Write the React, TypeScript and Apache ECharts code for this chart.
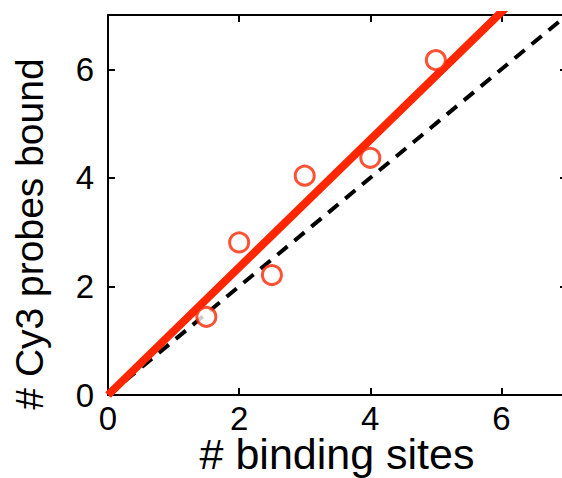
import React, { useEffect, useRef } from "react";
import * as echarts from "echarts";

const bindingSites = [1.5, 2, 2.5, 3, 4, 5];
const probesBound = [1.44, 2.81, 2.21, 4.04, 4.37, 6.17];
const fitX = [0, 7];
const fitY = [0, 8.23];
const identityX = [0, 7];
const identityY = [0, 7];
const tickLabels = [0, 2, 4, 6];

const xTitle = "# binding sites";
const yTitle = "# Cy3 probes bound";

const RED = "#ff2600";
const FONT = "'Liberation Sans', Arial, sans-serif";

export default function App() {
  const ref = useRef<HTMLDivElement>(null);
  useEffect(() => {
    if (!ref.current) return;
    const chart = echarts.init(ref.current, undefined, { renderer: "svg" });
    const fmt = (v: number) => (tickLabels.includes(v) ? String(v) : "");
    const axisLine = { show: true, onZero: false, lineStyle: { color: "#000", width: 2 } };
    const axisTick = { show: true, inside: true, length: 7, lineStyle: { color: "#000", width: 2 } };
    const labelStyle = { color: "#000", fontSize: 33, fontFamily: FONT };
    chart.setOption({
      animation: false,
      backgroundColor: "#fff",
      grid: {
        left: 108,
        top: 15,
        width: 459,
        height: 380,
        containLabel: false,
        outerBoundsMode: "none",
      },
      xAxis: [
        {
          type: "value",
          min: 0,
          max: 7,
          interval: 2,
          position: "bottom",
          axisLine,
          axisTick,
          splitLine: { show: false },
          axisLabel: {
            ...labelStyle,
            lineHeight: 28,
            margin: 9,
            formatter: fmt,
            showMaxLabel: false,
          },
        },
        {
          type: "value",
          min: 0,
          max: 7,
          interval: 2,
          position: "top",
          axisLine,
          axisTick,
          splitLine: { show: false },
          axisLabel: { show: false },
        },
      ],
      yAxis: [
        {
          type: "value",
          min: 0,
          max: 7,
          interval: 2,
          position: "left",
          axisLine,
          axisTick,
          splitLine: { show: false },
          axisLabel: { ...labelStyle, margin: 14, formatter: fmt, showMaxLabel: false },
        },
        {
          type: "value",
          min: 0,
          max: 7,
          interval: 2,
          position: "right",
          axisLine,
          axisTick,
          splitLine: { show: false },
          axisLabel: { show: false },
        },
      ],
      graphic: [
        {
          type: "text",
          x: 29,
          y: 234,
          rotation: Math.PI / 2,
          style: {
            text: yTitle,
            fontSize: 39,
            fontFamily: FONT,
            fill: "#000",
            textAlign: "center",
            textVerticalAlign: "middle",
          },
        },
        {
          type: "text",
          x: 337,
          y: 454,
          style: {
            text: xTitle,
            fontSize: 43,
            lineHeight: 36,
            fontFamily: FONT,
            fill: "#000",
            textAlign: "center",
            textVerticalAlign: "middle",
          },
        },
      ],
      series: [
        {
          type: "line",
          data: identityX.map((x, i) => [x, identityY[i]]),
          showSymbol: false,
          clip: true,
          lineStyle: { color: "#000", width: 4, type: [13, 9] },
          z: 2,
        },
        {
          type: "line",
          data: fitX.map((x, i) => [x, fitY[i]]),
          showSymbol: false,
          clip: true,
          lineStyle: { color: RED, width: 8, cap: "butt" },
          z: 3,
        },
        {
          type: "scatter",
          data: bindingSites.map((x, i) => [x, probesBound[i]]),
          symbol: "circle",
          symbolSize: 19,
          itemStyle: { color: "#fff", borderColor: RED, borderWidth: 3 },
          z: 4,
        },
      ],
    });
    return () => chart.dispose();
  }, []);
  return (
    <div
      ref={ref}
      style={{ position: "fixed", left: 0, top: 0, width: 562, height: 478 }}
    />
  );
}
